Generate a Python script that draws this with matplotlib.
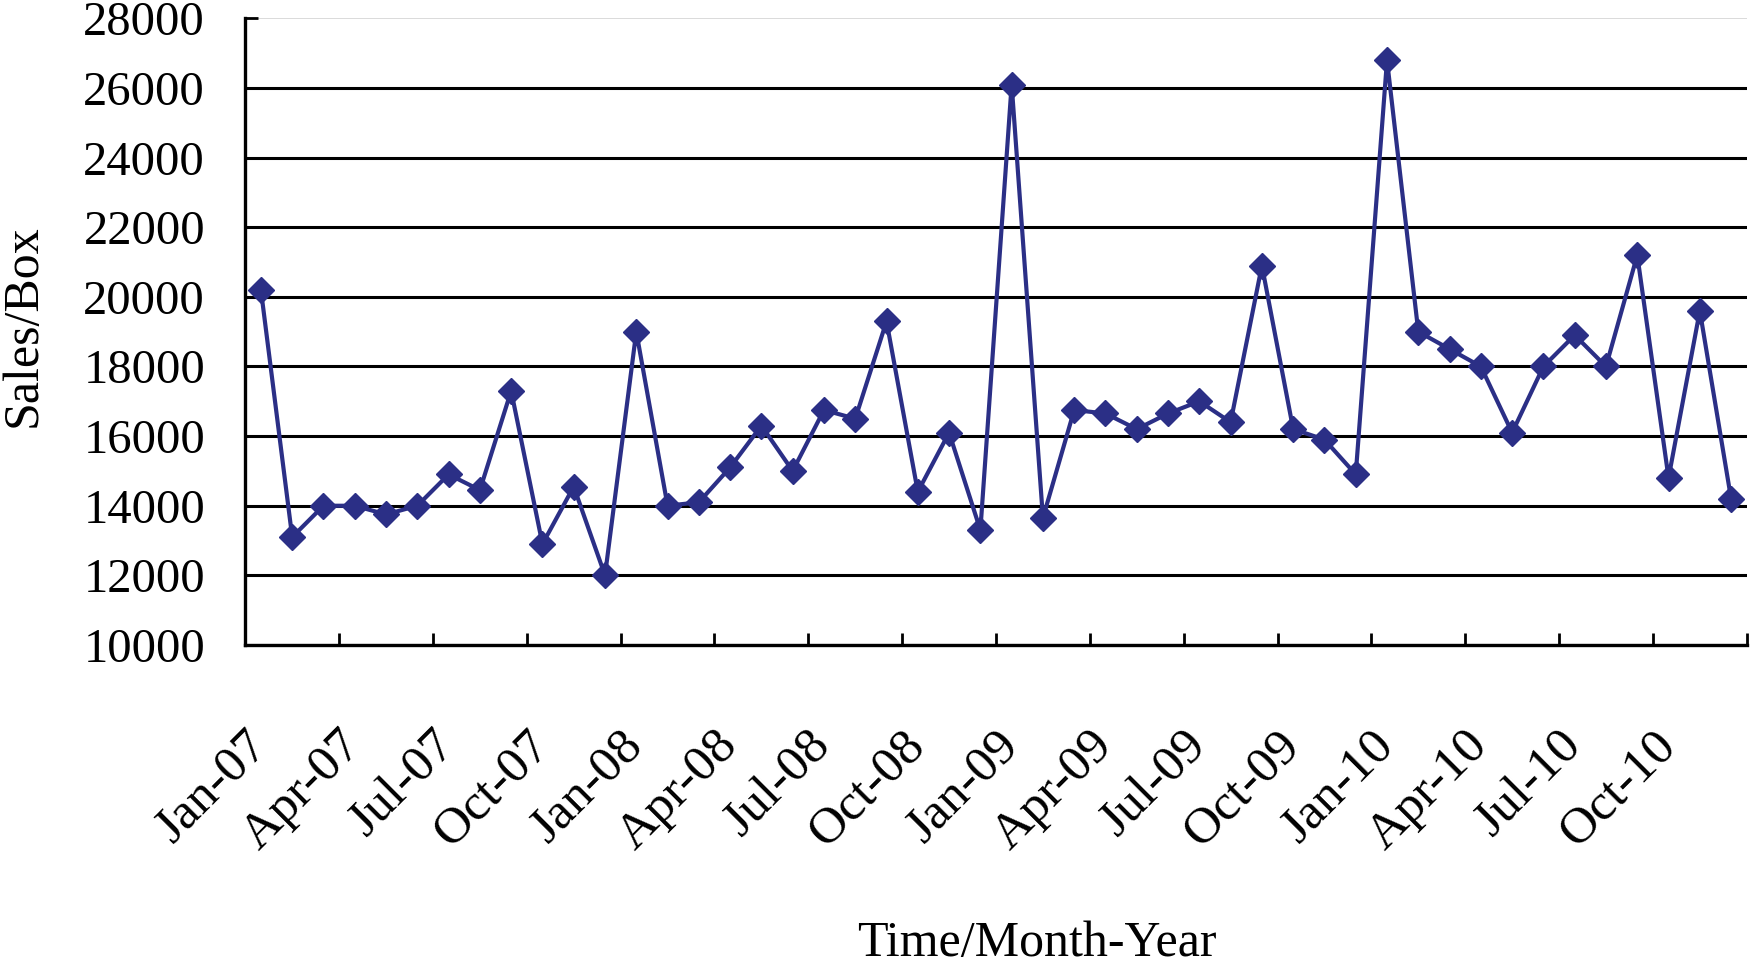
import numpy as np
import matplotlib
matplotlib.use("Agg")
import matplotlib.pyplot as plt

# monthly sales, Jan-07 .. Dec-10
months = ["Jan", "Feb", "Mar", "Apr", "May", "Jun",
          "Jul", "Aug", "Sep", "Oct", "Nov", "Dec"]
years = ["07", "08", "09", "10"]
sales = [20200, 13100, 14000, 14000, 13750, 14000, 14900, 14450, 17300, 12900, 14550, 12000,
         19000, 14000, 14100, 15100, 16300, 15000, 16750, 16500, 19300, 14400, 16100, 13300,
         26100, 13650, 16750, 16650, 16200, 16650, 17000, 16400, 20900, 16200, 15900, 14900,
         26800, 19000, 18500, 18000, 16100, 18000, 18900, 18000, 21200, 14800, 19600, 14200]
labels = [m + "-" + y for y in years for m in months]
label_step = 3

plt.rcParams["font.family"] = ["Liberation Serif", "DejaVu Serif"]

fig = plt.figure(figsize=(17.52, 9.67), dpi=100)
ax = fig.add_axes([0.140, 0.333, 0.857, 0.648])

x = np.arange(len(sales))
line_color = "#2B2F86"
ax.plot(x, sales, color=line_color, lw=3, marker="D", ms=13,
        markerfacecolor=line_color, markeredgecolor=line_color, zorder=3)

ax.set_xlim(-0.5, len(sales) - 0.5)
ax.set_ylim(10000, 28000)
ax.set_yticks(np.arange(10000, 28001, 2000))

# tick marks between categories, labels on categories
ax.set_xticks(np.arange(-0.5, len(sales), label_step))
ax.set_xticklabels([])
ax.set_xticks(x[::label_step], minor=True)
ax.set_xticklabels(labels[::label_step], minor=True, rotation=45,
                   ha="right", va="center", rotation_mode="anchor", fontsize=37)
ax.tick_params(axis="x", which="major", direction="in", length=9, width=2)
ax.tick_params(axis="x", which="minor", length=0, pad=67)
ax.tick_params(axis="y", direction="in", length=9, width=2, labelsize=35, pad=29)

ax.yaxis.grid(True, color="black", lw=2.2)
ax.set_axisbelow(True)
ax.yaxis.get_gridlines()[-1].set_color("#d4d4d4")
ax.yaxis.get_gridlines()[-1].set_linewidth(1.2)

for s in ["top", "right"]:
    ax.spines[s].set_visible(False)
for s in ["left", "bottom"]:
    ax.spines[s].set_linewidth(2.4)

ax.set_ylabel("Sales/Box", fontsize=36)
ax.yaxis.set_label_coords(-0.132, 0.51)
ax.set_xlabel("Time/Month-Year", fontsize=36)
ax.xaxis.set_label_coords(0.527, -0.44)

fig.savefig("out.png", dpi=100)
